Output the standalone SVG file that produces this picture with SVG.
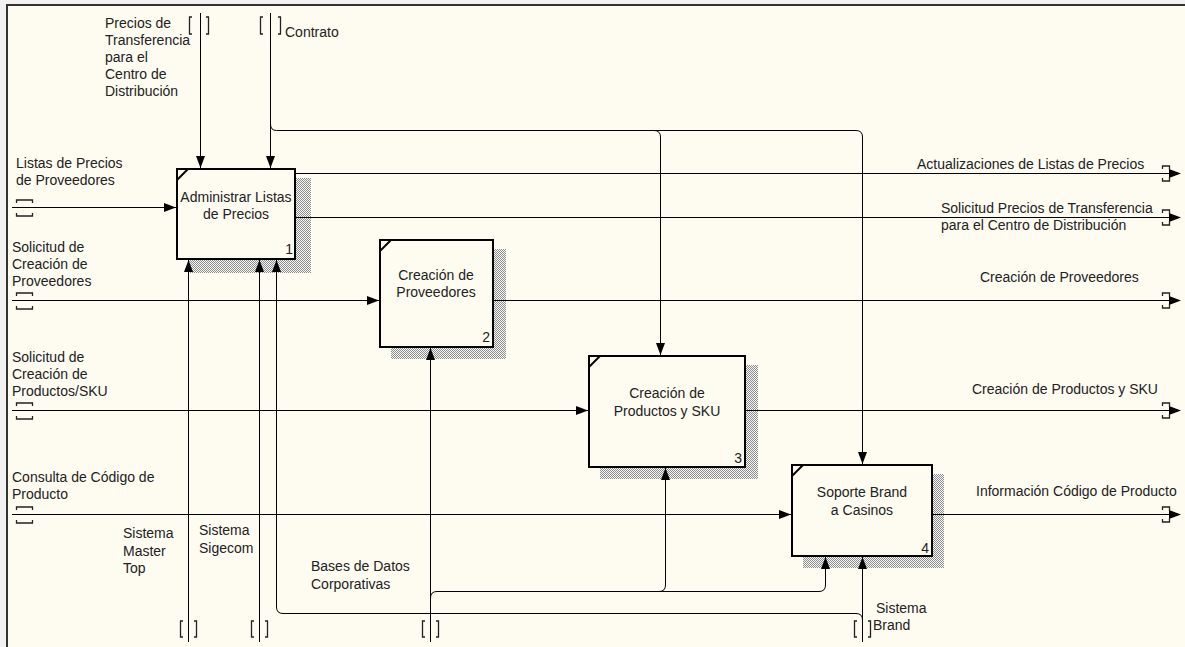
<svg xmlns="http://www.w3.org/2000/svg" width="1185" height="647" viewBox="0 0 1185 647">
<defs>
<pattern id="hatch" width="2" height="2" patternUnits="userSpaceOnUse">
<rect width="2" height="2" fill="#f6f6f4"/>
<rect x="0" y="0" width="1" height="1" fill="#8e8e8e"/>
<rect x="1" y="1" width="1" height="1" fill="#8e8e8e"/>
</pattern>
<marker id="arr" viewBox="0 0 12 9" refX="12" refY="4.5" markerWidth="12" markerHeight="9" markerUnits="userSpaceOnUse" orient="auto">
<path d="M0,0 L12,4.5 L0,9 z" fill="#000"/>
</marker>
<path id="outArr" d="M0,-4.5 L12,0 L0,4.5 z"/>
<style>
text{font-family:"Liberation Sans",Arial,sans-serif;font-size:14px;fill:#222}
.c{text-anchor:middle}
.n{text-anchor:end}
.box{fill:#fefbf1;stroke:#000;stroke-width:2}
.sh{fill:url(#hatch)}
.cm{stroke:#000;stroke-width:2}
.ln{fill:none;stroke:#000;stroke-width:1}
.ar{marker-end:url(#arr)}
.tn{fill:none;stroke:#222;stroke-width:1.3}
.oa{fill:#000}
</style>
</defs>
<rect width="1185" height="647" fill="#f2f2f2"/>
<rect x="7" y="5" width="1178" height="642" fill="#fefbf1"/>
<path d="M7,647 V5 H1185" fill="none" stroke="#333" stroke-width="2"/>

<g id="node1">
<rect class="sh" x="188" y="178" width="123" height="95"/>
<rect class="box" x="177" y="169" width="118" height="90"/>
<line class="cm" x1="177" y1="180" x2="188" y2="169"/>
<text class="c" x="236" y="202">Administrar Listas</text>
<text class="c" x="236" y="219">de Precios</text>
<text class="n" x="293" y="254">1</text>
</g>
<g id="node2">
<rect class="sh" x="391" y="249" width="115" height="110"/>
<rect class="box" x="380" y="240" width="113" height="107"/>
<line class="cm" x1="380" y1="251" x2="391" y2="240"/>
<text class="c" x="436" y="280">Creación de</text>
<text class="c" x="436" y="297">Proveedores</text>
<text class="n" x="490" y="342">2</text>
</g>
<g id="node3">
<rect class="sh" x="600" y="365" width="158" height="114"/>
<rect class="box" x="589" y="356" width="156" height="111"/>
<line class="cm" x1="589" y1="367" x2="600" y2="356"/>
<text class="c" x="667" y="398">Creación de</text>
<text class="c" x="667" y="416">Productos y SKU</text>
<text class="n" x="742" y="463">3</text>
</g>
<g id="node4">
<rect class="sh" x="803" y="474" width="141" height="94"/>
<rect class="box" x="792" y="465" width="140" height="91"/>
<line class="cm" x1="792" y1="476" x2="803" y2="465"/>
<text class="c" x="862" y="497">Soporte Brand</text>
<text class="c" x="862" y="515">a Casinos</text>
<text class="n" x="929" y="553">4</text>
</g>

<g id="connectors">
<!-- controls -->
<path class="ln ar" d="M200.5,13 V168"/>
<path class="ln ar" d="M270.5,13 V168"/>
<path class="ln ar" d="M270.5,124 Q270.5,130.5 276.5,130.5 H856 Q862.5,130.5 862.5,137 V464"/>
<path class="ln ar" d="M654,130.5 Q660.5,130.5 660.5,137 V355"/>
<!-- inputs -->
<path class="ln ar" d="M12,207.5 H176"/>
<path class="ln ar" d="M12,300.5 H379"/>
<path class="ln ar" d="M12,410.5 H588"/>
<path class="ln ar" d="M12,514.5 H791"/>
<!-- outputs -->
<path class="ln" d="M296,173.5 H1172"/>
<path class="ln" d="M296,217.5 H1172"/>
<path class="ln" d="M494,300.5 H1172"/>
<path class="ln" d="M746,410.5 H1172"/>
<path class="ln" d="M933,514.5 H1172"/>
<use href="#outArr" class="oa" x="1169" y="173.5"/>
<use href="#outArr" class="oa" x="1169" y="217.5"/>
<use href="#outArr" class="oa" x="1169" y="300.5"/>
<use href="#outArr" class="oa" x="1169" y="410.5"/>
<use href="#outArr" class="oa" x="1169" y="514.5"/>
<!-- mechanisms -->
<path class="ln ar" d="M188.5,642 V260"/>
<path class="ln ar" d="M259.5,642 V260"/>
<path class="ln ar" d="M430.5,642 V348"/>
<path class="ln ar" d="M430.5,598 Q430.5,591.5 437,591.5 H659 Q665.5,591.5 665.5,585 V468"/>
<path class="ln ar" d="M659,591.5 H819 Q825.5,591.5 825.5,585 V557"/>
<path class="ln ar" d="M862.5,642 V557"/>
<path class="ln ar" d="M862.5,620 Q862.5,613.5 856,613.5 H283 Q276.5,613.5 276.5,607 V260"/>
<!-- tunnel marks -->
<g class="tn">
<path d="M192,17 H189.5 V34 H192 M206,17 H208.5 V34 H206"/>
<path d="M263,17 H260.5 V34 H263 M278,17 H280.5 V34 H278"/>
<path d="M183,621 H180.5 V637 H183 M194,621 H196.5 V637 H194"/>
<path d="M254,621 H251.5 V637 H254 M265,621 H267.5 V637 H265"/>
<path d="M425,621 H422.5 V637 H425 M436,621 H438.5 V637 H436"/>
<path d="M857,621 H854.5 V637 H857 M868,621 H870.5 V637 H868"/>
<path d="M16.5,203 V200 H32.5 V203 M16.5,213 V216 H32.5 V213"/>
<path d="M16.5,296 V293 H32.5 V296 M16.5,306 V309 H32.5 V306"/>
<path d="M16.5,406 V403 H32.5 V406 M16.5,416 V419 H32.5 V416"/>
<path d="M16.5,510 V507 H32.5 V510 M16.5,520 V523 H32.5 V520"/>
<path d="M1162.5,169 V166 H1169.5 V170 M1162.5,178 V181 H1169.5 V177"/>
<path d="M1162.5,213 V210 H1169.5 V214 M1162.5,222 V225 H1169.5 V221"/>
<path d="M1162.5,296 V293 H1169.5 V297 M1162.5,305 V308 H1169.5 V304"/>
<path d="M1162.5,406 V403 H1169.5 V407 M1162.5,415 V418 H1169.5 V414"/>
<path d="M1162.5,510 V507 H1169.5 V511 M1162.5,519 V522 H1169.5 V518"/>
</g>
</g>

<g id="labels">
<text x="105" y="28">Precios de</text>
<text x="105" y="45">Transferencia</text>
<text x="105" y="62">para el</text>
<text x="105" y="79">Centro de</text>
<text x="105" y="96">Distribución</text>
<text x="285" y="37">Contrato</text>
<text x="16" y="168">Listas de Precios</text>
<text x="16" y="185">de Proveedores</text>
<text x="12" y="252">Solicitud de</text>
<text x="12" y="269">Creación de</text>
<text x="12" y="286">Proveedores</text>
<text x="12" y="362">Solicitud de</text>
<text x="12" y="379">Creación de</text>
<text x="12" y="396">Productos/SKU</text>
<text x="12" y="482">Consulta de Código de</text>
<text x="12" y="499">Producto</text>
<text x="917" y="169">Actualizaciones de Listas de Precios</text>
<text x="941" y="213">Solicitud Precios de Transferencia</text>
<text x="941" y="230">para el Centro de Distribución</text>
<text x="980" y="282">Creación de Proveedores</text>
<text x="972" y="394">Creación de Productos y SKU</text>
<text x="976" y="496">Información Código de Producto</text>
<text x="123" y="538">Sistema</text>
<text x="123" y="556">Master</text>
<text x="123" y="573">Top</text>
<text x="199" y="535">Sistema</text>
<text x="199" y="553">Sigecom</text>
<text x="311" y="571">Bases de Datos</text>
<text x="311" y="589">Corporativas</text>
<text x="876" y="613">Sistema</text>
<text x="873" y="630">Brand</text>
</g>
</svg>
